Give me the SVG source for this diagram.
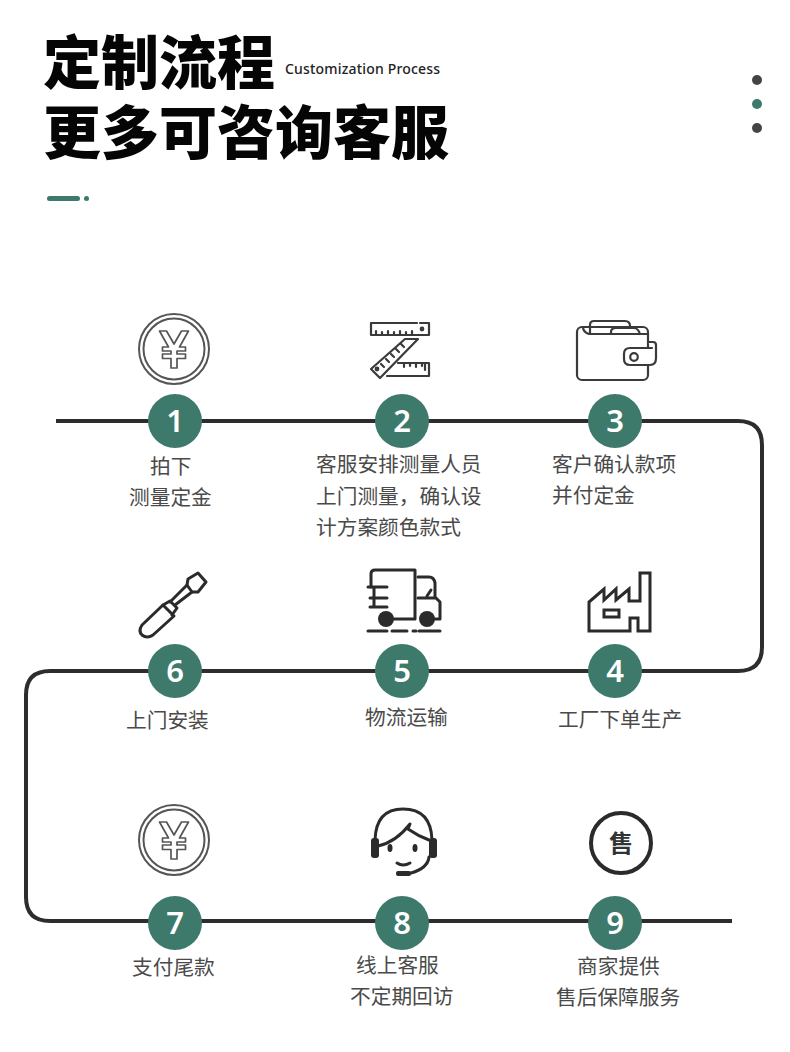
<svg xmlns="http://www.w3.org/2000/svg" width="790" height="1052" viewBox="0 0 790 1052">
<style>
.t{font-family:"Noto Sans CJK SC","Noto Sans",sans-serif;font-weight:900;font-size:58px;fill:#050505}
.l{font-family:"Noto Sans CJK SC","Noto Sans",sans-serif;font-weight:400;font-size:20.7px;fill:#4a4a4a}
.n{font-family:"Noto Sans","Open Sans",sans-serif;font-weight:600;font-size:31px;fill:#fff;text-anchor:middle}
.b{fill:#3d7a6c}
.i{fill:none;stroke:#3a3a3a;stroke-width:2.2;stroke-linejoin:round;stroke-linecap:round}
.k{fill:none;stroke:#2b2b2b;stroke-width:3;stroke-linejoin:round;stroke-linecap:round}
.i3{fill:none;stroke:#2b2b2b;stroke-width:3;stroke-linejoin:miter;stroke-linecap:round}
.d{fill:#2b2b2b}
</style>
<defs>
<g id="coin">
<circle r="35" fill="none" stroke="#555" stroke-width="2"/>
<circle r="30.500" fill="none" stroke="#555" stroke-width="2"/>
<path d="M-14.500,-18H-7.500L0,-5L7.500,-18H14.500L5.500,-2H11.500V2H3V5H11.500V9.500H3V19H-3V9.500H-11.500V5H-3V2H-11.500V-2H-5.500Z" fill="#fff" stroke="#555" stroke-width="1.700" stroke-linejoin="round"/>
</g>
</defs>
<rect width="790" height="1052" fill="#fff"/>
<g id="header">
<text class="t" x="43" y="84">定制流程</text>
<text class="t" x="43" y="154">更多可咨询客服</text>
<text x="285" y="74" font-family="Noto Sans,Open Sans,sans-serif" font-size="14" font-weight="500" fill="#222" textLength="155">Customization Process</text>
<rect class="b" x="47" y="196" width="33" height="5" rx="2.500"/>
<circle class="b" cx="86.500" cy="198.500" r="2.500"/>
<circle cx="757" cy="80" r="5" fill="#444"/>
<circle class="b" cx="757" cy="104" r="5"/>
<circle cx="757" cy="128" r="5" fill="#444"/>
</g>
<g id="connectors">
<path d="M56,421H738Q762,421 762,445V647Q762,671 738,671H50Q26,671 26,695V897Q26,921 50,921H732" fill="none" stroke="#2d2d2d" stroke-width="4"/>
</g>
<g id="node-1">
<use href="#coin" transform="translate(174,349)"/>
<circle class="b" cx="175" cy="421" r="27"/><text class="n" x="175" y="432">1</text>
<text class="l" x="150" y="474">拍下</text><text class="l" x="129" y="505">测量定金</text>
</g>
<g id="node-2">
<g class="i">
<path d="M417,323H371V335H429V323H420"/>
<path d="M376,335V331M382,335V332M388,335V331M394,335V332M400,335V331M406,335V332M412,335V331"/>
<circle cx="422" cy="329" r="1.300"/>
<path d="M405,339L418,339L380,378L371,369Z"/>
<path d="M401,344L404,347M396,349L399,352M391,354L394,357M386,359L389,362M381,364L384,367"/>
<circle cx="377" cy="369" r="1.300"/>
<path d="M387,376H429V363H398"/>
<path d="M404,363V367M410,363V366M416,363V367M422,363V366M425,363V370"/>
</g>
<circle class="b" cx="402" cy="421" r="27"/><text class="n" x="402" y="432">2</text>
<text class="l" x="316" y="472">客服安排测量人员</text><text class="l" x="316" y="504">上门测量，确认设</text><text class="l" x="316" y="535">计方案颜色款式</text>
</g>
<g id="node-3">
<g class="i">
<rect x="577" y="327" width="71" height="53" rx="5"/>
<path d="M590,334V325Q590,321 594,321H625Q630,321 630,326V328"/>
<path d="M611,334V332Q611,328 616,328H634Q638,328 640,334"/>
<path d="M583,327Q583,332 589,334H648"/>
<path d="M648,342H653Q656,342 656,345V358Q656,365 650,365H630Q624,365 624,359V354Q624,348 630,348H652" fill="#fff"/>
<circle cx="634" cy="357" r="3.800"/>
</g>
<circle class="b" cx="615" cy="421" r="27"/><text class="n" x="615" y="432">3</text>
<text class="l" x="552" y="472">客户确认款项</text><text class="l" x="552" y="503">并付定金</text>
</g>
<g id="node-4">
<path class="i3" d="M589,631V602L604,589V600L616,589V600L629,589V601H640V573H650V631H638V618H630V631Z"/>
<rect x="604" y="610" width="15" height="7" class="i3"/>
<circle class="b" cx="615" cy="671" r="27"/><text class="n" x="615" y="682">4</text>
<text class="l" x="558" y="727">工厂下单生产</text>
</g>
<g id="node-5">
<g class="k" stroke-width="2.500">
<path d="M371,587V574Q371,570 375,570H415V619H390"/>
<path d="M418,577H429Q434,577 435,583V597L440,602V619H433M418,598H435"/>
<path d="M368,587H387M370,598H387M370,607H387M374,587V607"/>
<path d="M427,596L431,590"/>
<path d="M368,631H387M392,631H407M413,631H416M419,631H440"/>
</g>
<circle class="d" cx="386" cy="619" r="8"/><circle class="d" cx="427" cy="619" r="8"/>
<circle class="b" cx="402" cy="671" r="27"/><text class="n" x="402" y="682">5</text>
<text class="l" x="365" y="725">物流运输</text>
</g>
<g id="node-6">
<g class="k">
<path d="M163,605L142,625Q138,631 142,635Q147,639 153,635L174,616Z"/>
<path d="M163,605L170,601L177,608L172,615"/>
<path d="M170,602L187,585M175,605L192,592"/>
<path d="M187,585L188,579L198,573L206,582L198,592L192,592Z"/>
</g>
<circle class="b" cx="175" cy="671" r="27"/><text class="n" x="175" y="682">6</text>
<text class="l" x="126" y="728">上门安装</text>
</g>
<g id="node-7">
<use href="#coin" transform="translate(174,840)"/>
<circle class="b" cx="175" cy="923" r="27"/><text class="n" x="175" y="934">7</text>
<text class="l" x="132" y="975">支付尾款</text>
</g>
<g id="node-8">
<g class="k">
<path d="M375,840Q376,809 403,809Q431,809 432,840"/>
<path d="M378,846Q396,842 410,824L408,829Q418,836 429,840"/>
<path d="M397,863Q403,867 410,863"/>
<path d="M429,857Q428,868 411,873"/>
</g>
<rect class="d" x="371" y="838" width="8" height="20" rx="3"/>
<rect class="d" x="429" y="838" width="8" height="20" rx="3"/>
<rect class="d" x="396" y="871" width="15" height="5" rx="2"/>
<ellipse class="d" cx="390" cy="848" rx="2.500" ry="4"/>
<ellipse class="d" cx="415" cy="848" rx="2.500" ry="4"/>
<circle class="b" cx="402" cy="923" r="27"/><text class="n" x="402" y="934">8</text>
<text class="l" x="356" y="973">线上客服</text><text class="l" x="350" y="1004">不定期回访</text>
</g>
<g id="node-9">
<circle cx="621" cy="843" r="30" fill="none" stroke="#2b2b2b" stroke-width="4"/>
<text x="621" y="852" text-anchor="middle" font-family="Noto Sans CJK SC,sans-serif" font-weight="700" font-size="24" fill="#333">售</text>
<circle class="b" cx="615" cy="923" r="27"/><text class="n" x="615" y="934">9</text>
<text class="l" x="577" y="974">商家提供</text><text class="l" x="556" y="1005">售后保障服务</text>
</g>
</svg>
